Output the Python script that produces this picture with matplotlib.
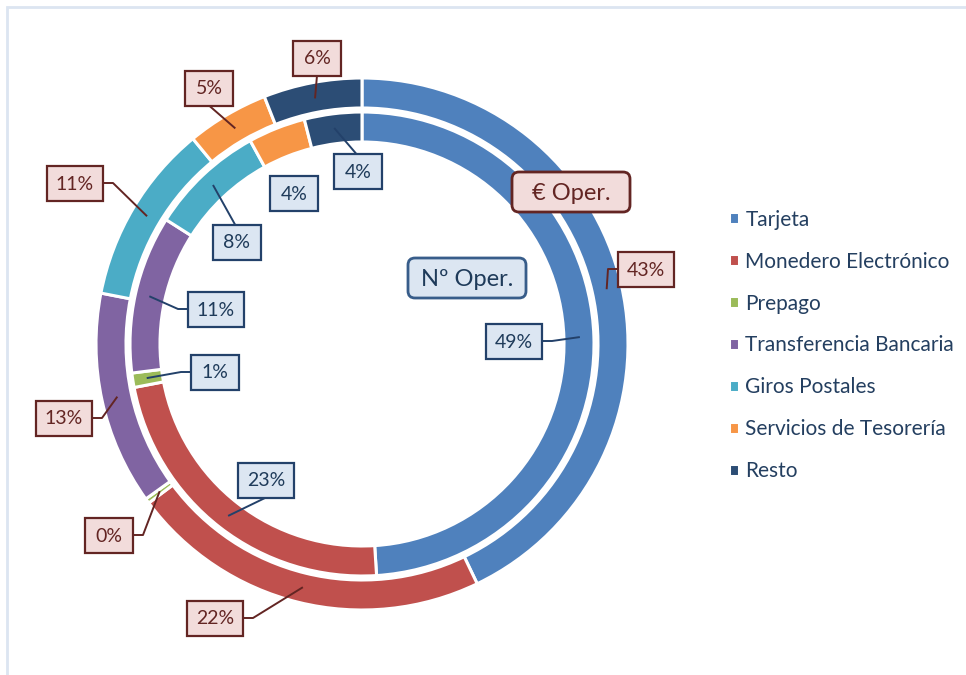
import numpy as np
import matplotlib
matplotlib.use("Agg")
import matplotlib.pyplot as plt
from matplotlib.patches import Rectangle, FancyBboxPatch

plt.rcParams['font.family'] = ['Lato', 'DejaVu Sans']

# ---- data ----
categories = ["Tarjeta", "Monedero Electrónico", "Prepago", "Transferencia Bancaria",
              "Giros Postales", "Servicios de Tesorería", "Resto"]
num_oper = [49, 23, 1, 11, 8, 4, 4]          # inner ring: Nº Oper. (%)
eur_oper = [43, 22, 0.3, 13, 11, 5, 6]       # outer ring: € Oper. (%)
colors = ["#4F81BD", "#C0504D", "#9BBB59", "#8064A2", "#4BACC6", "#F79646", "#2C4D75"]

# ---- layout (pixels) ----
W, H = 966, 675
CX, CY, R_PX = 362, 344, 266
RING_W = 30 / R_PX
INNER_R = 232 / R_PX
BOX_H = 35

# label box centres (figure pixels, y down) and where the leader leaves the box
inner_boxes = [((514, 341), 'right'), ((266, 480), 'bottom'), ((215, 372), 'left'),
               ((216, 309), 'left'), ((237, 242), 'top'), ((294, 193), None),
               ((358, 171), 'top')]
outer_boxes = [((646, 269), 'left'), ((215, 618), 'right'), ((109, 535), 'right'),
               ((64, 418), 'right'), ((75, 183), 'right'), ((209, 88), 'bottom'),
               ((317, 58), 'bottom')]

fig = plt.figure(figsize=(W / 100, H / 100), dpi=100)
fig.patch.set_facecolor("white")

ax = fig.add_axes([(CX - R_PX) / W, (H - CY - R_PX) / H, 2 * R_PX / W, 2 * R_PX / H])
wedge_kw = dict(edgecolor="white", linewidth=2.2)
outer_w, _ = ax.pie(eur_oper, radius=1.0, colors=colors, startangle=90, counterclock=False,
                    wedgeprops=dict(width=RING_W, **wedge_kw))
inner_w, _ = ax.pie(num_oper, radius=INNER_R, colors=colors, startangle=90, counterclock=False,
                    wedgeprops=dict(width=RING_W, **wedge_kw))
ax.set_xlim(-1, 1)
ax.set_ylim(-1, 1)
ax.set_aspect("equal")
ax.axis("off")

# overlay in pixel coordinates for labels and leaders
ov = fig.add_axes([0, 0, 1, 1], zorder=5)
ov.set_xlim(0, W)
ov.set_ylim(H, 0)
ov.axis("off")
ov.patch.set_alpha(0)

# faint chart border
ov.plot([7, 7, W], [H, 7, 7], color="#DCE5F1", lw=2, solid_joinstyle="miter")


def wedge_anchor(wedge):
    th = np.deg2rad((wedge.theta1 + wedge.theta2) / 2)
    r = wedge.r - wedge.width / 2
    disp = ax.transData.transform((r * np.cos(th), r * np.sin(th)))
    return ov.transData.inverted().transform(disp)


def draw_labels(wedges, values, boxes, face, edge, tcol):
    for w, v, ((bx, by), side) in zip(wedges, values, boxes):
        txt = f"{v:.0f}%"
        bw = 48 if len(txt) == 2 else 56
        hw, hh = bw / 2, BOX_H / 2
        ov.add_patch(Rectangle((bx - hw, by - hh), bw, BOX_H, fc=face, ec=edge, lw=1.6, zorder=6))
        ov.text(bx, by + 1, txt, ha="center", va="center", fontsize=14, color=tcol, zorder=7)
        if side is None:
            continue
        axp, ayp = wedge_anchor(w)
        if side == 'left':
            pts = [(bx - hw, by), (bx - hw - 10, by), (axp, ayp)]
        elif side == 'right':
            pts = [(bx + hw, by), (bx + hw + 10, by), (axp, ayp)]
        elif side == 'top':
            pts = [(bx - 2, by - hh), (axp, ayp)]
        else:
            pts = [(bx, by + hh), (axp, ayp)]
        xs, ys = zip(*pts)
        ov.plot(xs, ys, color=edge, lw=1.4, zorder=5)


draw_labels(inner_w, num_oper, inner_boxes, "#DCE6F2", "#23416A", "#1F3B5A")
draw_labels(outer_w, eur_oper, outer_boxes, "#F2DCDB", "#632523", "#632523")


# ring titles
def title_box(cx, cy, text, face, edge, tcol):
    bw, bh = 118, 40
    ov.add_patch(FancyBboxPatch((cx - bw / 2, cy - bh / 2), bw, bh,
                                boxstyle="round,pad=0,rounding_size=7",
                                fc=face, ec=edge, lw=2, zorder=7))
    ov.text(cx, cy + 1, text, ha="center", va="center", fontsize=17, color=tcol, zorder=8)


title_box(571, 192, "€ Oper.", "#F2DCDB", "#632523", "#632523")
title_box(467, 278, "Nº Oper.", "#DCE6F2", "#385D8A", "#1F3B5A")

# legend
leg = fig.legend(outer_w, categories, loc="upper left",
                 bbox_to_anchor=(710 / W, 1 - 191 / H), frameon=False,
                 fontsize=15, labelcolor="#243F60", handlelength=0.5, handleheight=0.5,
                 handletextpad=0.3, labelspacing=1.05)

fig.savefig("out.png", dpi=100)
